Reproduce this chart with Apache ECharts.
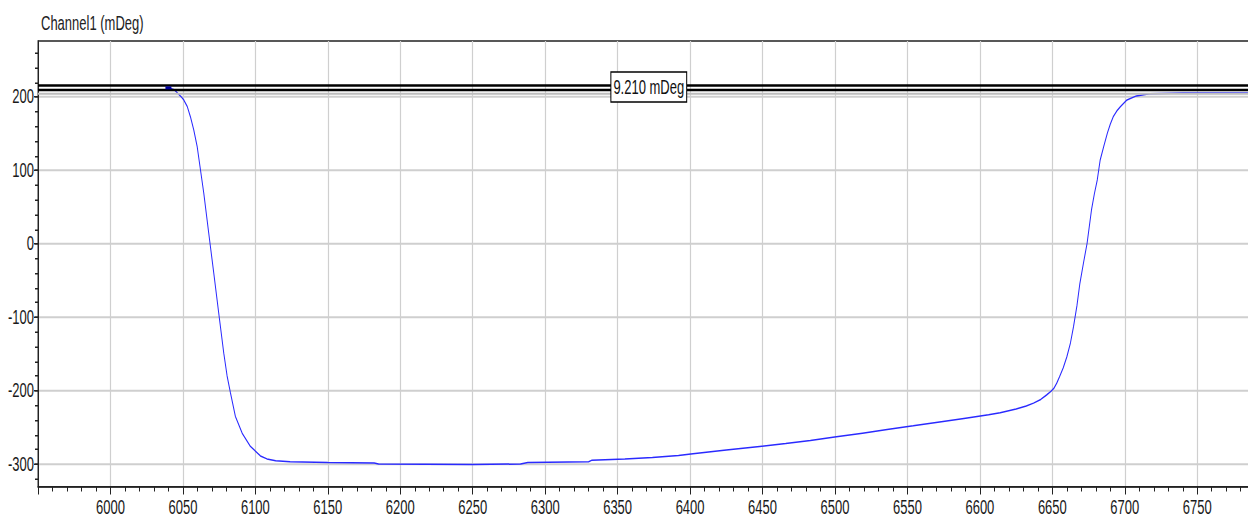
<!DOCTYPE html>
<html><head><meta charset="utf-8">
<script src="https://cdn.jsdelivr.net/npm/echarts@6/dist/echarts.min.js"></script>
<style>
html,body{margin:0;padding:0;background:#fff;overflow:hidden;}
#wrap{width:1248px;height:525px;overflow:hidden;}
#chart{width:1248px;height:350px;transform:scaleY(1.5);transform-origin:0 0;}
</style></head><body>
<div id="wrap"><div id="chart"></div></div>
<script>
// Data
const xs = [6040, 6044, 6046, 6048.5, 6050.6, 6053, 6055.2, 6057.5, 6059.8, 6062.1, 6064.4, 6067.8, 6071.3, 6074.7, 6078.2, 6080.5, 6082.8, 6086.2, 6090.9, 6096.6, 6103.5, 6108, 6114, 6124, 6150, 6182, 6185, 6250, 6283, 6288, 6330, 6332, 6355, 6374, 6392, 6402, 6425, 6448, 6466, 6483, 6501, 6519, 6536, 6554, 6571, 6589, 6606, 6614, 6625, 6632, 6637, 6642, 6646, 6649, 6651, 6653, 6655, 6657.5, 6660, 6662.5, 6664.6, 6667, 6669, 6671.5, 6674, 6677, 6679, 6681, 6683, 6685.5, 6688, 6690, 6692, 6694.5, 6697, 6701.5, 6708, 6717, 6740, 6785];
const ys = [212.5, 210, 206, 201, 196, 187, 173, 155, 133, 101, 69, 15, -40, -94, -149, -180, -203, -235, -258, -276, -289, -293, -295.5, -297, -298, -298.5, -300, -300.5, -300, -298, -297, -295, -293, -291, -288.5, -286, -281, -276, -272, -268, -263, -258, -253, -248, -243, -238, -233, -230, -225, -221, -217, -212, -206, -201, -197, -190, -181, -169, -154, -135, -113, -84, -54, -26, 1, 46, 68, 87, 114, 133, 151, 163, 173, 181, 187, 196, 201.5, 204.5, 205.5, 205.5];
const yTickValues = [-300, -200, -100, 0, 100, 200];
const yMinorTickValues = [-320, -300, -280, -260, -240, -220, -200, -180, -160, -140, -120, -100, -80, -60, -40, -20, 0, 20, 40, 60, 80, 100, 120, 140, 160, 180, 200, 220, 240, 260];
const xMin = 5950, xMax = 6800, xStep = 50;
const yMin = -331.3, yMax = 276.3;
const cursorLines = [216, 209.8];
const cursorBaseLine = 204.5;
const cursorLabel = '9.210 mDeg';
const cursorLabelAt = [6371.5, 213.5];
const titleText = 'Channel1 (mDeg)';

const FONT = "'Liberation Sans', Arial, sans-serif";
const FS = 13;
const pts = xs.map((x, i) => [x, ys[i]]);

const chart = echarts.init(document.getElementById('chart'), null, {renderer: 'svg'});
chart.setOption({
  animation: false,
  backgroundColor: '#fff',
  title: {
    text: titleText, left: 41, top: 9, padding: 0,
    textStyle: {fontSize: FS, fontWeight: 'normal', color: '#222', fontFamily: FONT}
  },
  grid: {left: 38, top: 27.33, right: -21.7, bottom: 25.33, show: true, borderColor: '#222', borderWidth: 1, backgroundColor: '#fff', outerBoundsMode: 'none', containLabel: false},
  xAxis: {
    type: 'value', min: xMin, max: xMax, interval: xStep,
    axisLine: {onZero: false, lineStyle: {color: '#222', width: 1}},
    axisTick: {length: 5, lineStyle: {color: '#222'}},
    minorTick: {show: true, splitNumber: 5, length: 3, lineStyle: {color: '#222'}},
    axisLabel: {margin: 7, showMinLabel: false, showMaxLabel: false, fontSize: FS, color: '#1a1a1a', fontFamily: FONT,
      formatter: v => String(v)},
    splitLine: {show: true, lineStyle: {color: '#cfcfcf', width: 1.2}}
  },
  yAxis: [{
    type: 'value', min: yMin, max: yMax,
    axisLine: {show: true, onZero: false, lineStyle: {color: '#222', width: 1}},
    axisTick: {show: true, customValues: yTickValues, length: 4, lineStyle: {color: '#222'}},
    axisLabel: {customValues: yTickValues, margin: 4, fontSize: FS, color: '#1a1a1a', fontFamily: FONT,
      formatter: v => String(v)},
    splitLine: {show: true, lineStyle: {color: '#cfcfcf', width: 1.2}}
  }, {
    type: 'value', min: yMin, max: yMax, position: 'left', offset: 0,
    axisLine: {show: false, onZero: false},
    axisTick: {show: true, customValues: yMinorTickValues, length: 3, lineStyle: {color: '#222'}},
    axisLabel: {show: false},
    splitLine: {show: false}
  }],
  series: [{
    type: 'line', data: [], z: 1,
    markLine: {
      silent: true, symbol: 'none', label: {show: false}, animation: false,
      data: [
        {yAxis: cursorBaseLine, lineStyle: {color: '#bdbdbd', width: 1.2, type: 'solid'}},
        {yAxis: cursorLines[0], lineStyle: {color: '#000', width: 1.8, type: 'solid'}},
        {yAxis: cursorLines[1], lineStyle: {color: '#000', width: 1.8, type: 'solid'}}
      ]
    }
  }, {
    type: 'line', data: pts, showSymbol: false, z: 3,
    lineStyle: {color: '#2a2aff', width: 1},
    markPoint: {
      silent: true, animation: false,
      data: [{coord: pts[0], symbol: 'rect', symbolSize: [6, 2], itemStyle: {color: '#00009c'}, label: {show: false}}]
    }
  }, {
    type: 'line', data: [], z: 5,
    markPoint: {
      silent: true, animation: false,
      data: [{
        coord: cursorLabelAt, symbol: 'rect', symbolSize: 1, itemStyle: {color: 'rgba(0,0,0,0)'},
        label: {show: true, position: 'inside', align: 'center', verticalAlign: 'middle', formatter: cursorLabel,
          backgroundColor: '#fff', borderColor: '#000', borderWidth: 1,
          padding: [3, 2, 3, 2], color: '#111', fontSize: FS, fontFamily: FONT}
      }]
    }
  }]
});
</script>
</body></html>
